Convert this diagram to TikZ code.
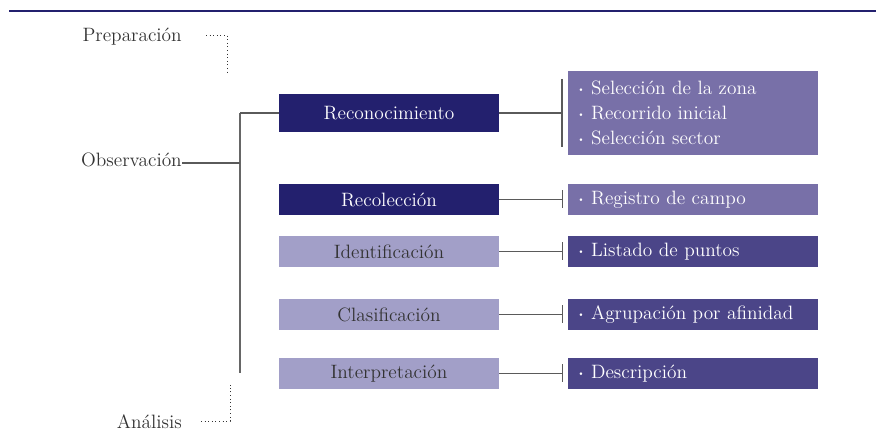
\documentclass[tikz,border=0pt]{standalone}
\usepackage{tikz}
\usetikzlibrary{positioning}
\definecolor{navy}{HTML}{23206E}
\definecolor{lavender}{HTML}{A29FC8}
\definecolor{midpurple}{HTML}{7870A8}
\definecolor{darkpurple}{HTML}{4B4588}
\definecolor{linegray}{HTML}{5A5A5A}
\newcommand{\itm}{\raisebox{0.25ex}{\scalebox{0.5}{\textbullet}}\ }

\begin{document}
\begin{tikzpicture}[x=0.75pt,y=-0.75pt]
\tikzset{stage/.style = {shape=rectangle,inner sep=0pt,minimum width=165pt,minimum height=23.25pt,font=\fontsize{14.5}{19}\selectfont}}
\tikzset{task/.style = {shape=rectangle,anchor=west,inner xsep=6.75pt,inner ysep=0pt,text width=174pt,align=left,minimum height=23.25pt,text=white,font=\fontsize{14.5}{19}\selectfont}}
\tikzset{label/.style = {inner sep=0pt,text=black!80,font=\fontsize{14.5}{19}\selectfont}}
\tikzset{edge/.style = {draw=linegray,line width=0.8pt}}
\tikzset{hint/.style = {draw=black!80,dotted,line width=0.7pt}}
\useasboundingbox (0,0) rectangle (876,441);
\draw[navy,line width=1.1pt] (9,11) -- (876,11);
% NODES
\node[label,anchor=base east] (prep) at (182,42) {Preparación};
\node[label,anchor=base east] (obs) at (182,167) {Observación};
\node[label,anchor=base east] (anal) at (182,429) {Análisis};

\node[stage,fill=navy,text=white,minimum height=28.5pt] (recon) at (389,113) {Reconocimiento};
\node[stage,fill=navy,text=white] (recol) at (389,199.5) {Recolección};
\node[stage,fill=lavender,text=black!80] (ident) at (389,251.5) {Identificación};
\node[stage,fill=lavender,text=black!80] (clasif) at (389,314.5) {Clasificación};
\node[stage,fill=lavender,text=black!80] (interp) at (389,373.5) {Interpretación};

\node[task,fill=midpurple,minimum height=63pt] (zona) at (568,113) {\itm Selección de la zona\\ \itm Recorrido inicial\\ \itm Selección sector};
\node[task,fill=midpurple] (campo) at (568,199.5) {\itm Registro de campo};
\node[task,fill=darkpurple] (puntos) at (568,251.5) {\itm Listado de puntos};
\node[task,fill=darkpurple] (afin) at (568,314.5) {\itm Agrupación por afinidad};
\node[task,fill=darkpurple] (descr) at (568,373.5) {\itm Descripción};

\coordinate (top) at (240,113);
\coordinate (bot) at (240,373);
\coordinate (p1) at (206,35);
\coordinate (p2) at (227,74);
\coordinate (a1) at (201,421);
\coordinate (a2) at (230,385);
% EDGES
\draw[edge,line width=1.1pt,draw=black!60] (top) -- (bot);
\draw[edge] (recon.west) -- (top);
\draw[edge] (obs.east |- 0,163) -- (top |- 0,163);

\draw[hint] (p1) -| (p2);
\draw[hint] (a1) -| (a2);

\draw[edge] (recon.east) -- (562,113);
\draw[edge] (562,79) -- (562,147);
\foreach \n in {recol,ident,clasif,interp}{
  \draw[edge] (\n.east) -- ++(63,0);
  \draw[edge] ([xshift=63*0.75pt,yshift=9*0.75pt]\n.east) -- ++(0,18);
}
\end{tikzpicture}
\end{document}
